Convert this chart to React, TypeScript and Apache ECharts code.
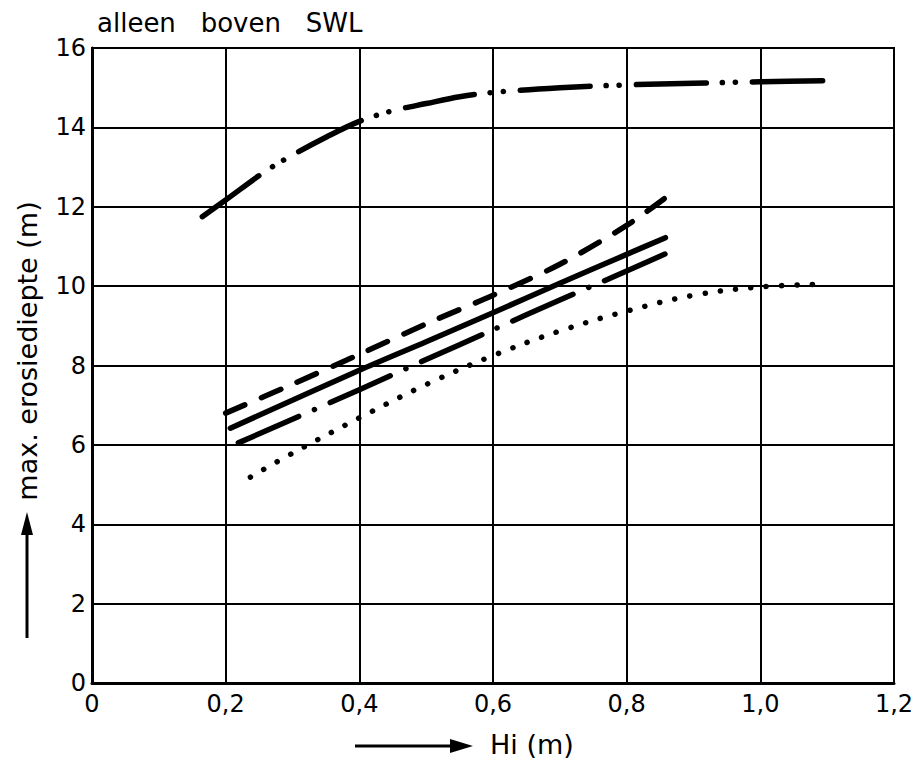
import React, { useEffect, useRef } from "react";
import * as echarts from "echarts";

// ---- tick labels ----
const xTickLabels = ["0", "0,2", "0,4", "0,6", "0,8", "1,0", "1,2"];
const yTickLabels = ["0", "2", "4", "6", "8", "10", "12", "14", "16"];

// ---- series data (Hi in m, max. erosiediepte in m) ----
// dash-dot-dot curve (top)
const topX = [0.165, 0.2, 0.26, 0.3, 0.35, 0.4, 0.45, 0.5, 0.55, 0.6, 0.7, 0.8, 0.9, 1.0, 1.107];
const topY = [11.75, 12.17, 12.9, 13.3, 13.75, 14.15, 14.42, 14.6, 14.77, 14.88, 15.0, 15.07, 15.11, 15.15, 15.18];

// dashed line
const dashedX = [0.2, 0.3, 0.4, 0.5, 0.6, 0.7, 0.8, 0.86];
const dashedY = [6.8, 7.53, 8.28, 9.05, 9.77, 10.55, 11.53, 12.25];

// solid line
const solidX = [0.207, 0.4, 0.5, 0.6, 0.7, 0.8, 0.858];
const solidY = [6.42, 7.88, 8.6, 9.33, 10.07, 10.8, 11.22];

// dash-dot line
const dashDotX = [0.219, 0.4, 0.5, 0.6, 0.7, 0.8, 0.88];
const dashDotY = [6.05, 7.39, 8.15, 8.9, 9.65, 10.38, 10.98];

// dotted curve
const dottedX = [0.237, 0.3, 0.4, 0.5, 0.6, 0.7, 0.8, 0.9, 1.0, 1.1];
const dottedY = [5.19, 5.79, 6.68, 7.52, 8.25, 8.87, 9.37, 9.77, 9.98, 10.05];

const zip = (xs: number[], ys: number[]) => xs.map((x, i) => [x, ys[i]]);

const FONT = "DejaVu Sans";

export default function App() {
  const ref = useRef<HTMLDivElement>(null);
  useEffect(() => {
    if (!ref.current) return;
    const chart = echarts.init(ref.current, undefined, { renderer: "svg" });
    const lineBase = (data: number[][], type: any, smooth: number, width = 5, offset = 0) => ({
      type: "line",
      data,
      smooth,
      showSymbol: false,
      symbol: "none",
      silent: true,
      lineStyle: { color: "#000", width, type, dashOffset: offset, cap: "round", join: "round" },
    });
    chart.setOption({
      animation: false,
      backgroundColor: "#fff",
      title: {
        text: "alleen   boven   SWL",
        left: 97,
        top: 10,
        padding: 0,
        textStyle: { fontFamily: FONT, fontSize: 26, fontWeight: "normal", color: "#000" },
      },
      grid: {
        left: 92,
        right: 23,
        top: 48,
        bottom: 78,
        show: true,
        borderColor: "#000",
        borderWidth: 2,
        backgroundColor: "transparent",
      },
      xAxis: {
        type: "value",
        min: 0,
        max: 1.2,
        interval: 0.2,
        axisLine: { show: true, lineStyle: { color: "#000", width: 3 } },
        axisTick: { show: false },
        splitLine: { show: true, lineStyle: { color: "#000", width: 2 } },
        axisLabel: {
          margin: 9,
          fontFamily: FONT,
          fontSize: 24,
          color: "#000",
          formatter: (v: number) => xTickLabels[Math.round(v / 0.2)] ?? "",
        },
      },
      yAxis: {
        type: "value",
        min: 0,
        max: 16,
        interval: 2,
        axisLine: { show: true, lineStyle: { color: "#000", width: 3 } },
        axisTick: { show: false },
        splitLine: { show: true, lineStyle: { color: "#000", width: 2 } },
        axisLabel: {
          margin: 6,
          fontFamily: FONT,
          fontSize: 24,
          color: "#000",
          formatter: (v: number) => yTickLabels[Math.round(v / 2)] ?? "",
        },
      },
      graphic: [
        {
          type: "text",
          x: 27,
          y: 351,
          rotation: Math.PI / 2,
          style: {
            text: "max. erosiediepte (m)",
            fontFamily: FONT,
            fontSize: 27,
            fill: "#000",
            align: "center",
            verticalAlign: "middle",
          },
        },
        {
          type: "line",
          shape: { x1: 27, y1: 638, x2: 27, y2: 530 },
          style: { stroke: "#000", lineWidth: 3 },
        },
        {
          type: "polygon",
          shape: { points: [[27, 512], [21, 535], [33, 535]] },
          style: { fill: "#000" },
        },
        {
          type: "line",
          shape: { x1: 355, y1: 746, x2: 455, y2: 746 },
          style: { stroke: "#000", lineWidth: 3 },
        },
        {
          type: "polygon",
          shape: { points: [[473, 746], [450, 739], [450, 753]] },
          style: { fill: "#000" },
        },
        {
          type: "text",
          x: 490,
          y: 744,
          style: {
            text: "Hi (m)",
            fontFamily: FONT,
            fontSize: 27,
            fill: "#000",
            align: "left",
            verticalAlign: "middle",
          },
        },
      ],
      series: [
        lineBase(zip(topX, topY), [70, 16, 0.1, 13, 0.1, 17], 0.35, 5.5, 0),
        lineBase(zip(dashedX, dashedY), [21, 18], 0.3, 5.5),
        lineBase(zip(solidX, solidY), "solid", 0.3, 5.5),
        lineBase(zip(dashDotX, dashDotY), [66, 17, 0.1, 17], 0.3, 5.5),
        lineBase(zip(dottedX, dottedY), [0.1, 15.3], 0.35, 5.5),
      ],
    });
    return () => chart.dispose();
  }, []);
  return (
    <div
      ref={ref}
      style={{ position: "fixed", left: 0, top: 0, width: 917, height: 761, background: "#fff" }}
    />
  );
}
